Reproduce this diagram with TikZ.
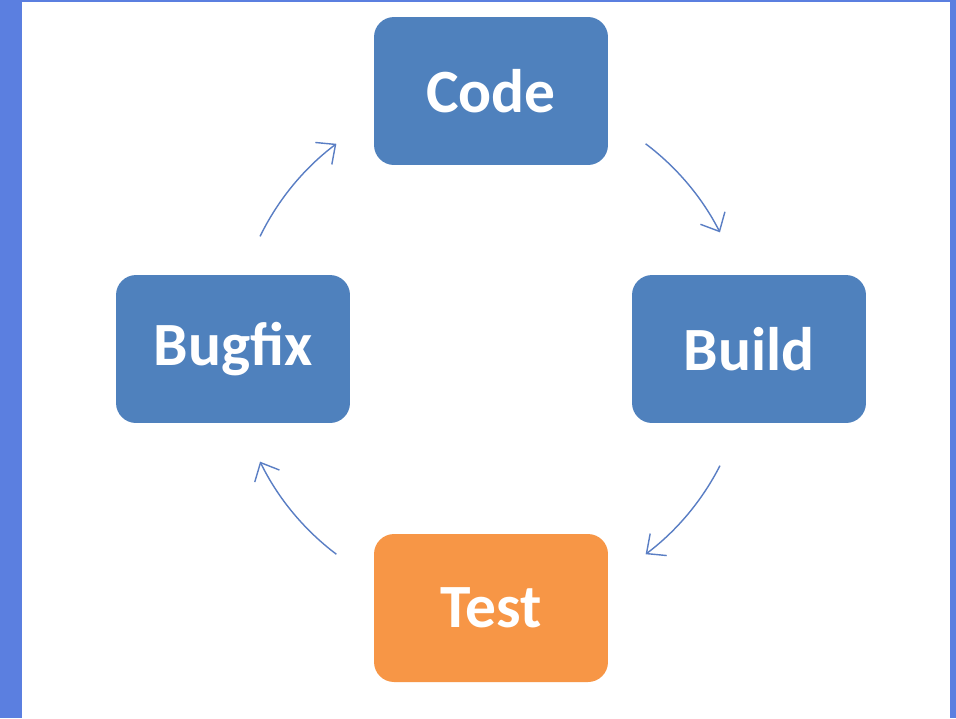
\documentclass[tikz,border=0pt]{standalone}
\usepackage{fontspec}
\setmainfont{Carlito}
\usetikzlibrary{arrows.meta, positioning}

\begin{document}
\begin{tikzpicture}[x=0.02cm, y=-0.02cm]
% --- CORES ---
\definecolor{moldura}{HTML}{5B7FE0}
\definecolor{caixa}{HTML}{4F81BD}
\definecolor{teste}{HTML}{F79646}
\definecolor{seta}{HTML}{5A7EC4}
\tikzset{
  etapa/.style={fill=caixa, rounded corners=0.4cm, minimum width=4.68cm, minimum height=2.96cm, text=white, font=\fontsize{35}{42}\selectfont\bfseries},
  fluxo/.style={draw=seta, line width=0.8pt, -{Straight Barb[length=0.3cm, width=0.55cm]}}
}

% LAYER 1: Moldura
\fill[moldura] (0,0) rectangle (956,718);
\fill[white] (22,2) rectangle (950,718);
\useasboundingbox (0,0) rectangle (956,718);

% LAYER 2: Etapas
\node[etapa] (code) at (491,91) {Code};
\node[etapa] (build) at (749,349) {Build};
\node[etapa, fill=teste] (test) at (491,608) {Test};
\node[etapa] (bugfix) at (233,349) {Bugfix};

% LAYER 3: Setas do ciclo
\coordinate (ciclo) at (491,349);
\foreach \a/\b in {53/27, -27/-53, -127/-154, 154/127}
  \draw[fluxo] (ciclo) ++(\a:5.14cm) arc[start angle=\a, end angle=\b, radius=5.14cm];
\end{tikzpicture}
\end{document}
